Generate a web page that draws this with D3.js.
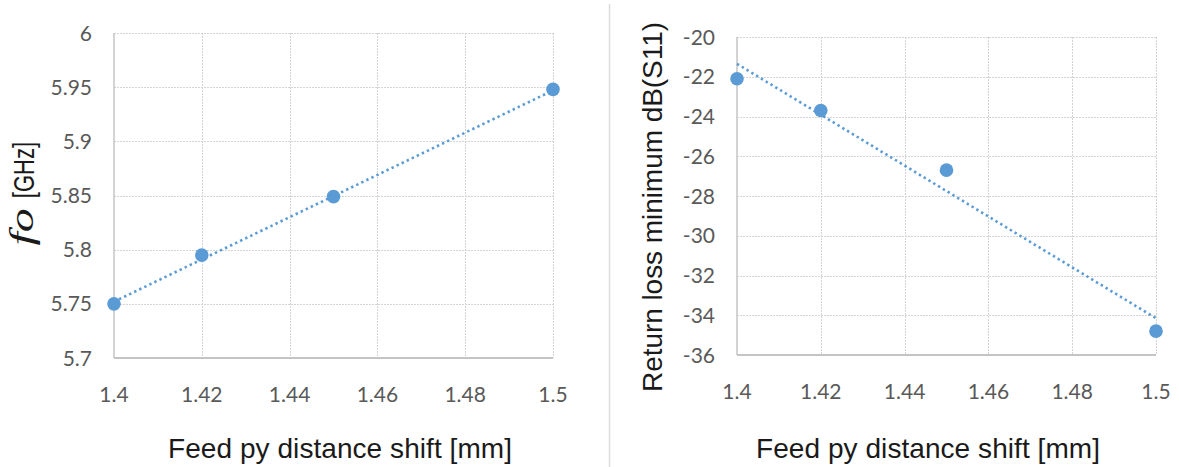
<!DOCTYPE html>
<html>
<head>
<meta charset="utf-8">
<script src="https://cdn.jsdelivr.net/npm/d3@7"></script>
<style>
  body { margin: 0; background: #fff; }
  svg { display: block; }
  .tick-label { font-family: Lato, "Open Sans", sans-serif; font-size: 21px; fill: #595959; }
  .axis-title { font-family: "Liberation Sans", Arial, sans-serif; fill: #1a1a1a; }
  .ghz { font-family: "Liberation Sans", Arial, sans-serif; font-size: 29px; fill: #1a1a1a; }
  .fo { font-family: "Liberation Serif", "DejaVu Serif", serif; font-style: italic; font-size: 33px; fill: #1a1a1a; }
</style>
</head>
<body>
<div id="chart"></div>
<script>
// shared x values (feed py distance shift, mm)
var shiftMm = [1.4, 1.42, 1.45, 1.5];
var xTicks = [1.4, 1.42, 1.44, 1.46, 1.48, 1.5];

// left chart: resonant frequency
var freqGHz = [5.75, 5.795, 5.849, 5.948];
var freqTrend = [5.752, 5.947];          // dotted trendline ends at 1.4 and 1.5
var freqTicks = [5.7, 5.75, 5.8, 5.85, 5.9, 5.95, 6];

// right chart: return loss minimum
var lossDb = [-22.1, -23.7, -26.7, -34.8];
var lossTrend = [-21.35, -34.15];
var lossTicks = [-36, -34, -32, -30, -28, -26, -24, -22, -20];

var W = 1179, H = 467;
var svg = d3.select("#chart").append("svg")
    .attr("width", W)
    .attr("height", H);

// separator between the two panels
svg.append("line")
    .attr("x1", 609.5).attr("x2", 609.5)
    .attr("y1", 4).attr("y2", H)
    .attr("stroke", "#dcdcdc")
    .attr("stroke-width", 1.5);

function drawPanel(opt) {
    var x = d3.scaleLinear().domain([1.4, 1.5]).range([opt.left, opt.right]);
    var y = d3.scaleLinear().domain(opt.yDomain).range([opt.bottom, opt.top]);
    var g = svg.append("g");

    // horizontal gridlines
    g.selectAll(".hgrid").data(opt.yTicks.filter(function (d) { return d !== opt.yDomain[0]; }))
      .enter().append("line")
        .attr("x1", x(1.4)).attr("x2", x(1.5))
        .attr("y1", function (d) { return Math.round(y(d)) + 0.5; })
        .attr("y2", function (d) { return Math.round(y(d)) + 0.5; })
        .attr("stroke", "#d4d4d4")
        .attr("stroke-dasharray", "2,1");

    // vertical gridlines
    g.selectAll(".vgrid").data(xTicks.slice(1))
      .enter().append("line")
        .attr("x1", function (d) { return Math.round(x(d)) + 0.5; })
        .attr("x2", function (d) { return Math.round(x(d)) + 0.5; })
        .attr("y1", y(opt.yDomain[1])).attr("y2", y(opt.yDomain[0]))
        .attr("stroke", "#d4d4d4")
        .attr("stroke-dasharray", "2,1");

    // axis lines
    g.append("line")
        .attr("x1", x(1.4)).attr("x2", x(1.4))
        .attr("y1", y(opt.yDomain[1])).attr("y2", y(opt.yDomain[0]))
        .attr("stroke", "#c4c4c4").attr("stroke-width", 1.5);
    g.append("line")
        .attr("x1", x(1.4)).attr("x2", x(1.5))
        .attr("y1", y(opt.yDomain[0])).attr("y2", y(opt.yDomain[0]))
        .attr("stroke", "#c4c4c4").attr("stroke-width", 2);

    // y tick labels (plain hyphen for negatives, as in the original)
    g.selectAll(".ylab").data(opt.yTicks)
      .enter().append("text")
        .attr("class", "tick-label")
        .attr("x", x(1.4) - 22)
        .attr("y", function (d) { return y(d); })
        .attr("dy", "0.36em")
        .attr("text-anchor", "end")
        .text(function (d) { return String(+d.toFixed(2)); });

    // x tick labels
    g.selectAll(".xlab").data(xTicks)
      .enter().append("text")
        .attr("class", "tick-label")
        .attr("x", function (d) { return x(d); })
        .attr("y", opt.bottom + 44)
        .attr("text-anchor", "middle")
        .text(function (d) { return String(d); });

    // dotted linear trendline
    g.append("line")
        .attr("x1", x(1.4)).attr("x2", x(1.5))
        .attr("y1", y(opt.trend[0])).attr("y2", y(opt.trend[1]))
        .attr("stroke", "#5b9bd5")
        .attr("stroke-width", 2.6)
        .attr("stroke-dasharray", "2.4,3.2");

    // markers
    g.selectAll(".pt").data(opt.values)
      .enter().append("circle")
        .attr("cx", function (d, i) { return x(shiftMm[i]); })
        .attr("cy", function (d) { return y(d); })
        .attr("r", 6.8)
        .attr("fill", "#5b9bd5");

    // x axis title
    g.append("text")
        .attr("class", "axis-title")
        .attr("x", opt.titleX)
        .attr("y", 458)
        .attr("text-anchor", "middle")
        .style("font-size", "28px")
        .attr("textLength", 344)
        .text("Feed py distance shift [mm]");

    return g;
}

var leftG = drawPanel({
    left: 114, right: 553, top: 33, bottom: 358,
    yDomain: [5.7, 6], yTicks: freqTicks,
    values: freqGHz, trend: freqTrend, titleX: 340
});

var rightG = drawPanel({
    left: 737, right: 1156, top: 37, bottom: 355,
    yDomain: [-36, -20], yTicks: lossTicks,
    values: lossDb, trend: lossTrend, titleX: 928
});

// left y axis title: f_o [GHz]; each piece in its own rotated, length-squeezed group
leftG.append("g")
    .attr("transform", "translate(34,170) rotate(-90) scale(0.76,1)")
  .append("text")
    .attr("class", "ghz")
    .attr("text-anchor", "middle")
    .text("[GHz]");

leftG.append("g")
    .attr("transform", "translate(33,227) rotate(-90) scale(1.45,1)")
  .append("text")
    .attr("class", "fo")
    .attr("text-anchor", "middle")
    .text("fo");

// right y axis title
rightG.append("text")
    .attr("class", "axis-title")
    .attr("transform", "translate(662,207) rotate(-90)")
    .attr("text-anchor", "middle")
    .style("font-size", "28px")
    .attr("textLength", 370)
    .text("Return loss minimum dB(S11)");
</script>
</body>
</html>
